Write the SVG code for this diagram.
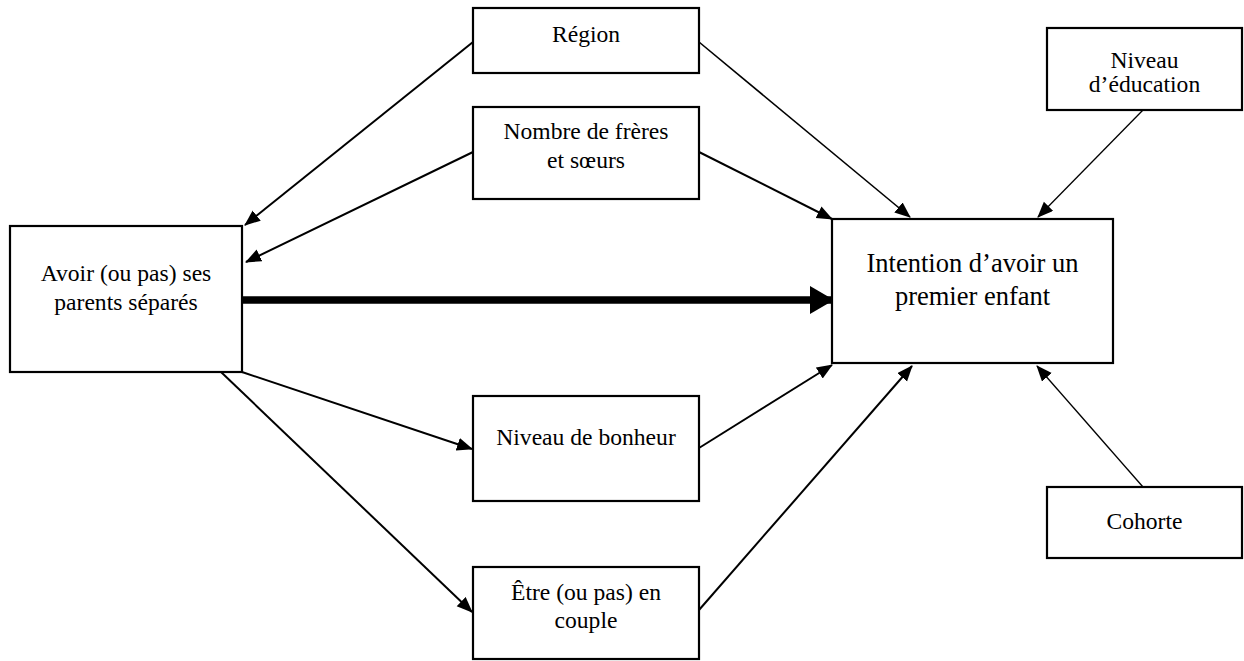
<svg xmlns="http://www.w3.org/2000/svg" width="1244" height="661" viewBox="0 0 1244 661">
<style>
.box{fill:#fff;stroke:#000;stroke-width:2.2}
.t{font-family:"Liberation Serif","Times New Roman",serif;font-size:23.6px;fill:#000;text-anchor:middle}
.big{font-size:26.5px}
.c{fill:none;stroke:#000;stroke-width:2}
.thin{stroke-width:1.3}
.mid{stroke-width:1.6}
.thick{stroke-width:7.5}
</style>
<defs>
<marker id="ah" markerUnits="userSpaceOnUse" markerWidth="18" markerHeight="14" refX="15" refY="6.5" orient="auto">
<path d="M0,0 L16,6.5 L0,13 z" fill="#000"/>
</marker>
<marker id="ahb" markerUnits="userSpaceOnUse" markerWidth="26" markerHeight="30" refX="22" refY="14" orient="auto">
<path d="M0,0 L24,14 L0,28 z" fill="#000"/>
</marker>
</defs>
<rect width="1244" height="661" fill="#fff"/>
<g id="connectors">
<line class="c" x1="473" y1="42" x2="245" y2="225" marker-end="url(#ah)"/>
<line class="c" x1="473" y1="152" x2="246" y2="262" marker-end="url(#ah)"/>
<line class="c mid" x1="699" y1="42" x2="910" y2="217" marker-end="url(#ah)"/>
<line class="c" x1="699" y1="152" x2="832" y2="219" marker-end="url(#ah)"/>
<line class="c thin" x1="1143" y1="110" x2="1038" y2="217" marker-end="url(#ah)"/>
<line class="c thin" x1="1143" y1="487" x2="1037" y2="366" marker-end="url(#ah)"/>
<line class="c thick" x1="243" y1="300" x2="832" y2="300" marker-end="url(#ahb)"/>
<line class="c" x1="242" y1="372" x2="472" y2="449" marker-end="url(#ah)"/>
<line class="c" x1="221" y1="372" x2="472" y2="612" marker-end="url(#ah)"/>
<line class="c" x1="699" y1="448" x2="832" y2="365" marker-end="url(#ah)"/>
<line class="c" x1="699" y1="610" x2="912" y2="366" marker-end="url(#ah)"/>
</g>
<g id="region">
<rect class="box" x="473" y="8" width="226" height="65"/>
<text class="t" x="586" y="42">Région</text>
</g>
<g id="freres">
<rect class="box" x="473" y="107" width="226" height="92"/>
<text class="t" x="586" y="139">Nombre de frères</text>
<text class="t" x="586" y="168">et sœurs</text>
</g>
<g id="avoir">
<rect class="box" x="10" y="226" width="232" height="146"/>
<text class="t" x="126" y="281">Avoir (ou pas) ses</text>
<text class="t" x="126" y="310">parents séparés</text>
</g>
<g id="intention">
<rect class="box" x="832" y="219" width="281" height="144"/>
<text class="t big" x="972.5" y="272">Intention d’avoir un</text>
<text class="t big" x="972.5" y="305">premier enfant</text>
</g>
<g id="education">
<rect class="box" x="1047" y="28" width="195" height="82"/>
<text class="t" x="1144.5" y="68">Niveau</text>
<text class="t" x="1144.5" y="92">d’éducation</text>
</g>
<g id="cohorte">
<rect class="box" x="1047" y="487" width="195" height="71"/>
<text class="t" x="1144.5" y="529">Cohorte</text>
</g>
<g id="bonheur">
<rect class="box" x="473" y="396" width="226" height="105"/>
<text class="t" x="586" y="445">Niveau de bonheur</text>
</g>
<g id="couple">
<rect class="box" x="473" y="567" width="226" height="92"/>
<text class="t" x="586" y="600">Être (ou pas) en</text>
<text class="t" x="586" y="628">couple</text>
</g>
</svg>
